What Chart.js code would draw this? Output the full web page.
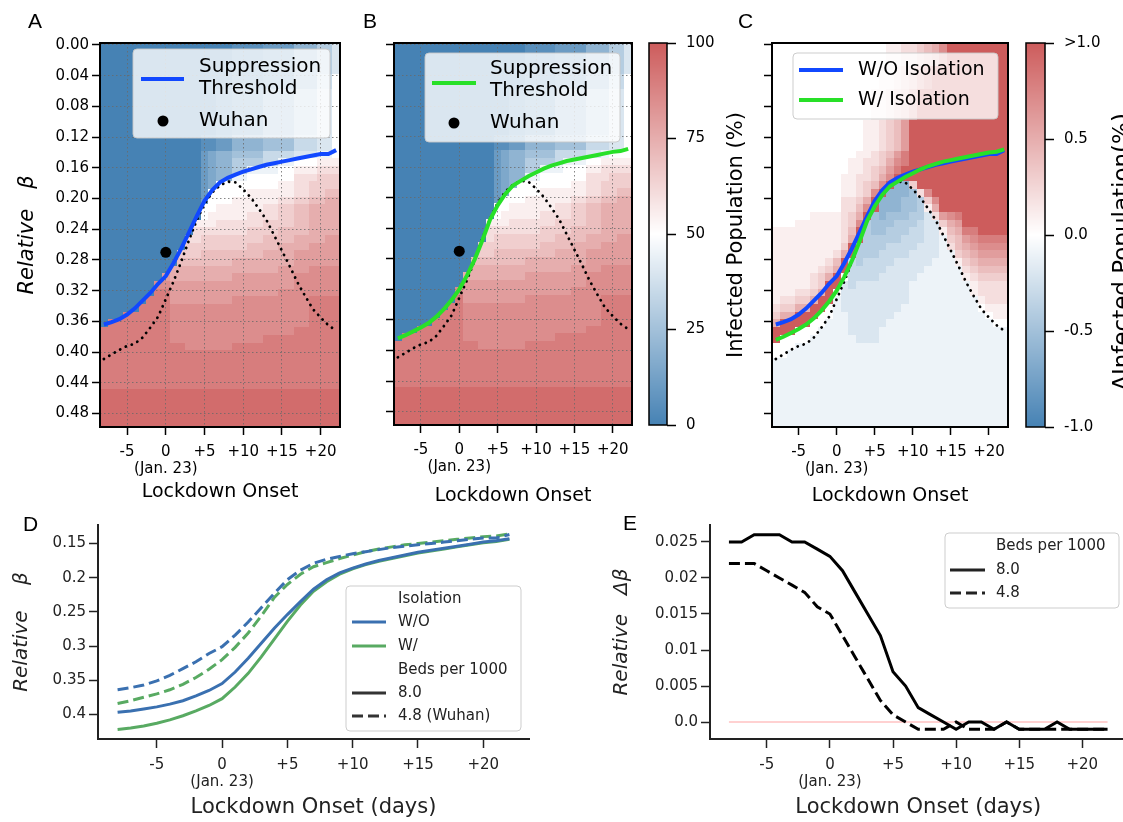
<!DOCTYPE html>
<html>
<head>
<meta charset="utf-8">
<title>Lockdown onset and suppression threshold</title>
<script src="https://cdn.jsdelivr.net/npm/chart.js@4.4.1/dist/chart.umd.min.js"></script>
<style>
  html, body { margin: 0; padding: 0; background: #fff; }
  body { width: 1123px; height: 822px; position: relative; overflow: hidden; }
  canvas { position: absolute; }
  .panel { position: absolute; font-family: 'Liberation Sans', Arial, sans-serif; font-size: 21px; color: #000; line-height: 1; }
</style>
</head>
<body>
<canvas id="heatA" width="350" height="512" style="left:0px;top:0px"></canvas>
<canvas id="heatB" width="280" height="512" style="left:360px;top:0px"></canvas>
<canvas id="barB" width="80" height="470" style="left:640px;top:0px"></canvas>
<canvas id="heatC" width="296" height="512" style="left:720px;top:0px"></canvas>
<canvas id="barC" width="107" height="470" style="left:1016px;top:0px"></canvas>
<canvas id="panelD" width="560" height="317" style="left:0px;top:505px"></canvas>
<canvas id="panelE" width="570" height="317" style="left:560px;top:505px"></canvas>

<div class="panel" style="left:28px;top:10px">A</div>
<div class="panel" style="left:363px;top:10px">B</div>
<div class="panel" style="left:738px;top:10px">C</div>
<div class="panel" style="left:23px;top:513px">D</div>
<div class="panel" style="left:623px;top:512px">E</div>

<script>
// ---- data ----
const days = [-8, -7, -6, -5, -4, -3, -2, -1, 0, 1, 2, 3, 4, 5, 6, 7, 8, 9, 10, 11, 12, 13, 14, 15, 16, 17, 18, 19, 20, 21, 22];
const dayTicks = [-5, 0, 5, 10, 15, 20];
const betaTicks = [0, 0.04, 0.08, 0.12, 0.16, 0.2, 0.24, 0.28, 0.32, 0.36, 0.4, 0.44, 0.48];

// suppression threshold, 4.8 beds per 1000 (Wuhan)
const thresholdWO = [0.364, 0.361, 0.357, 0.351, 0.343, 0.333, 0.323, 0.311, 0.301, 0.284, 0.265, 0.244, 0.223, 0.203, 0.189, 0.179, 0.173, 0.169, 0.165, 0.162, 0.159, 0.156, 0.154, 0.152, 0.150, 0.148, 0.146, 0.144, 0.142, 0.142, 0.137];
const thresholdW = [0.384, 0.380, 0.375, 0.370, 0.364, 0.356, 0.346, 0.334, 0.320, 0.302, 0.281, 0.256, 0.229, 0.210, 0.195, 0.184, 0.178, 0.172, 0.167, 0.162, 0.158, 0.155, 0.152, 0.150, 0.148, 0.146, 0.144, 0.142, 0.140, 0.139, 0.136];
// suppression threshold, 8.0 beds per 1000
const betaWO8 = [0.397, 0.395, 0.392, 0.389, 0.385, 0.380, 0.373, 0.365, 0.355, 0.338, 0.318, 0.296, 0.274, 0.254, 0.235, 0.217, 0.203, 0.193, 0.186, 0.180, 0.175, 0.171, 0.167, 0.163, 0.160, 0.157, 0.154, 0.151, 0.148, 0.146, 0.143];
const betaW8 = [0.422, 0.420, 0.417, 0.413, 0.408, 0.402, 0.395, 0.387, 0.377, 0.360, 0.340, 0.316, 0.290, 0.264, 0.240, 0.220, 0.206, 0.195, 0.187, 0.181, 0.176, 0.172, 0.168, 0.164, 0.161, 0.158, 0.155, 0.152, 0.149, 0.147, 0.144];
// dotted reference curve
const peakCurve = [0.409, 0.403, 0.397, 0.392, 0.389, 0.381, 0.368, 0.354, 0.331, 0.308, 0.282, 0.254, 0.228, 0.207, 0.192, 0.183, 0.178, 0.179, 0.188, 0.199, 0.213, 0.228, 0.248, 0.268, 0.288, 0.309, 0.327, 0.344, 0.355, 0.365, 0.372];
const wuhanDay = [0];
const wuhanBeta = [0.27];

// relative delta beta (with minus without isolation)
const deltaBeds8 = [0.025, 0.025, 0.026, 0.026, 0.026, 0.025, 0.025, 0.024, 0.023, 0.021, 0.018, 0.015, 0.012, 0.007, 0.005, 0.002, 0.001, 0.000, -0.001, 0.000, 0.000, -0.001, 0.000, -0.001, -0.001, -0.001, 0.000, -0.001, -0.001, -0.001, -0.001];
const deltaBeds48 = [0.022, 0.022, 0.022, 0.021, 0.020, 0.019, 0.018, 0.016, 0.015, 0.012, 0.009, 0.006, 0.003, 0.001, 0.000, -0.001, -0.001, -0.001, 0.000, -0.001, -0.001, -0.001, 0.000, -0.001, -0.001, -0.001, -0.001, -0.001, -0.001, -0.001, -0.001];
const zeroRef = [0, 0];

const dTicks = [0.15, 0.2, 0.25, 0.3, 0.35, 0.4];
const eTicks = [0, 0.005, 0.01, 0.015, 0.02, 0.025];
const barTicksB = [0, 25, 50, 75, 100];
const barTicksC = [-1, -0.5, 0, 0.5, 1];

// heat grids: one string per beta row (0.00, 0.01, ...), run-length coded "level*count"
// level chars 0..k = 21 steps from the low end to the high end of the colour bar
const heatLevels = '0123456789abcdefghijk';
const heatRowStart = -0.0025;
const heatRowStep = 0.01;

const heatA = [
  "0*17 1*4 2*4 4*3 6*2 8*1",
  "0*17 1*4 2*4 4*3 6*2 8*1",
  "0*17 1*4 2*4 4*3 6*2 8*1",
  "0*17 1*4 2*4 4*3 6*2 8*1",
  "0*17 1*4 2*4 4*3 7*2 a*1",
  "0*17 1*4 2*4 4*3 7*2 a*1",
  "0*15 1*2 2*4 4*4 6*3 8*2 a*1",
  "0*15 1*2 2*4 4*4 6*3 8*2 a*1",
  "0*15 1*2 2*4 4*4 6*3 8*2 a*1",
  "0*15 1*2 2*4 4*4 6*3 8*2 a*1",
  "0*15 1*2 2*4 4*4 6*3 8*2 a*1",
  "0*15 1*2 2*4 4*4 6*3 8*2 a*1",
  "0*13 1*2 2*2 4*4 5*4 7*3 8*2 a*1",
  "0*13 1*2 2*2 4*4 5*4 7*3 8*2 a*1",
  "0*13 2*1 3*1 4*2 5*4 7*4 8*3 9*2 a*1",
  "0*13 2*1 3*1 4*2 6*4 7*2 9*2 a*3 b*3",
  "0*13 2*1 3*1 4*2 6*2 9*4 a*2 b*3 c*3",
  "0*13 2*1 3*1 4*2 9*2 a*6 c*3 d*3",
  "0*13 2*1 3*1 a*8 b*2 c*2 d*4",
  "0*13 2*1 a*5 b*6 c*2 d*2 e*2",
  "0*13 2*1 a*3 b*6 c*2 d*2 e*2 f*2",
  "0*13 a*2 b*6 c*2 d*2 e*2 f*4",
  "0*13 a*1 b*5 c*4 d*2 e*2 f*4",
  "0*12 b*3 c*6 d*4 e*2 f*4",
  "0*12 c*7 d*4 e*4 f*4",
  "0*11 c*2 d*8 e*4 f*4 g*2",
  "0*11 d*8 e*4 f*4 g*4",
  "0*10 d*3 e*8 f*4 g*6",
  "0*10 e*7 f*8 g*6",
  "0*9 f*14 g*4 h*4",
  "0*8 g*1 f*8 g*8 h*6",
  "0*7 h*2 g*16 h*6",
  "0*7 i*2 g*14 h*8",
  "0*6 i*3 g*8 h*10 i*4",
  "0*5 i*4 h*18 i*4",
  "0*3 i*6 h*18 i*4",
  "0*1 i*8 h*18 i*4",
  "i*9 h*16 i*6",
  "i*9 h*12 i*10",
  "i*11 h*6 i*14",
  "i*31",
  "i*31",
  "i*31",
  "i*31",
  "i*31",
  "j*31",
  "j*31",
  "j*31",
  "j*31",
  "j*31"
];

const heatB = [
  "0*17 1*4 2*4 4*3 6*2 8*1",
  "0*17 1*4 2*4 4*3 6*2 8*1",
  "0*17 1*4 2*4 4*3 6*2 8*1",
  "0*17 1*4 2*4 4*3 6*2 8*1",
  "0*17 1*4 2*4 4*3 7*2 a*1",
  "0*17 1*4 2*4 4*3 7*2 a*1",
  "0*15 1*2 2*4 4*4 6*3 8*2 a*1",
  "0*15 1*2 2*4 4*4 6*3 8*2 a*1",
  "0*15 1*2 2*4 4*4 6*3 8*2 a*1",
  "0*15 1*2 2*4 4*4 6*3 8*2 a*1",
  "0*15 1*2 2*4 4*4 6*3 8*2 a*1",
  "0*15 1*2 2*4 4*4 6*3 8*2 a*1",
  "0*13 1*2 2*2 4*4 5*4 7*3 8*2 a*1",
  "0*13 1*2 2*2 4*4 5*4 7*3 8*2 a*1",
  "0*13 2*1 3*1 4*2 5*4 7*4 8*2 9*1 a*3",
  "0*13 2*1 3*1 4*2 6*4 7*1 9*3 a*2 b*4",
  "0*13 2*1 3*1 4*2 6*2 9*3 a*3 b*2 c*4",
  "0*13 2*1 3*1 4*2 9*2 a*6 c*3 d*3",
  "0*13 2*1 3*1 4*1 a*7 b*2 c*2 d*4",
  "0*13 2*1 3*1 a*4 b*6 c*2 d*2 e*2",
  "0*13 2*1 a*3 b*6 c*2 d*2 e*2 f*2",
  "0*13 a*2 b*6 c*2 d*2 e*2 f*4",
  "0*13 a*1 b*5 c*4 d*2 e*2 f*4",
  "0*12 b*3 c*6 d*4 e*2 f*4",
  "0*12 c*7 d*4 e*4 f*4",
  "0*12 c*1 d*8 e*4 f*4 g*2",
  "0*11 d*8 e*4 f*4 g*4",
  "0*11 d*2 e*8 f*4 g*6",
  "0*10 e*7 f*8 g*6",
  "0*10 f*13 g*4 h*4",
  "0*9 f*8 g*8 h*6",
  "0*9 g*16 h*6",
  "0*8 h*1 g*14 h*8",
  "0*8 i*1 g*8 h*10 i*4",
  "0*7 i*2 h*18 i*4",
  "0*6 i*3 h*18 i*4",
  "0*5 i*4 h*18 i*4",
  "0*3 i*6 h*16 i*6",
  "0*1 i*8 h*12 i*10",
  "i*11 h*6 i*14",
  "i*31",
  "i*31",
  "i*31",
  "i*31",
  "i*31",
  "j*31",
  "j*31",
  "j*31",
  "j*31",
  "j*31"
];

const heatC = [
  "a*15 b*2 c*2 d*1 e*1 f*1 h*1 k*8",
  "a*15 b*2 c*2 d*1 e*1 f*1 h*1 k*8",
  "a*15 b*2 c*2 d*1 e*1 f*1 h*1 k*8",
  "a*14 b*2 c*1 d*1 e*1 g*1 i*1 k*10",
  "a*14 b*2 c*1 d*1 e*1 g*1 i*1 k*10",
  "a*14 b*2 c*1 d*1 e*1 g*1 i*1 k*10",
  "a*13 b*2 c*1 d*1 e*1 g*1 k*12",
  "a*13 b*2 c*1 d*1 e*1 g*1 k*12",
  "a*13 b*2 c*1 d*1 e*1 g*1 k*12",
  "a*13 b*2 c*1 d*1 e*1 g*1 k*12",
  "a*12 b*2 c*1 d*1 e*1 g*1 k*13",
  "a*12 b*2 c*1 d*1 e*1 g*1 k*13",
  "a*12 b*2 c*1 d*1 e*1 g*1 k*13",
  "a*12 b*2 c*1 d*1 e*1 g*1 k*13",
  "a*11 b*2 c*1 d*1 e*1 g*1 i*1 k*13",
  "a*10 b*2 c*2 d*1 f*1 h*1 i*1 k*13",
  "a*10 b*2 c*1 d*1 e*1 g*1 i*1 k*14",
  "a*9 b*2 c*2 d*1 f*1 h*1 k*15",
  "a*9 b*2 c*1 d*1 e*1 h*1 k*1 4*2 d*1 k*12",
  "a*9 b*2 c*1 d*1 h*1 k*1 4*3 5*1 c*1 h*1 k*10",
  "a*9 c*2 d*1 f*1 k*1 4*3 5*2 6*1 d*1 h*1 k*9",
  "a*9 c*2 e*1 h*1 k*1 4*3 5*2 6*1 b*1 f*1 k*9",
  "a*5 b*4 c*1 d*1 f*1 k*1 5*1 4*1 5*3 6*2 8*1 c*1 g*1 h*1 i*1 k*6",
  "a*3 b*6 c*1 d*1 h*1 6*1 5*3 6*3 7*1 8*2 d*1 f*1 g*1 k*6",
  "b*9 c*1 e*1 k*1 6*1 5*2 6*3 7*2 8*2 b*1 e*1 f*1 i*2 k*4",
  "b*9 c*1 f*1 k*1 6*5 7*3 8*2 9*1 d*1 e*1 g*1 h*1 i*4",
  "b*9 d*1 k*1 6*4 7*4 8*3 9*1 c*1 e*1 f*1 g*1 h*4",
  "b*8 c*1 f*1 k*1 6*3 7*4 8*4 9*2 d*1 e*1 f*1 g*4",
  "b*7 c*1 e*1 k*1 7*1 6*1 7*4 8*5 9*3 b*1 d*1 e*1 f*4",
  "b*6 c*1 d*1 f*1 k*1 7*5 8*5 9*5 c*1 d*1 e*4",
  "b*5 c*1 d*1 f*1 k*1 a*1 7*4 8*5 9*6 b*1 c*1 d*4",
  "b*5 c*1 d*1 k*2 8*1 7*1 8*7 9*8 b*1 c*4",
  "b*3 c*2 d*1 f*1 k*1 a*1 8*9 9*8 b*1 c*4",
  "b*1 c*2 d*2 f*1 k*2 9*1 8*9 9*9 b*1 c*3",
  "c*1 d*2 f*2 k*2 a*1 9*1 8*8 9*10 a*1 b*3",
  "d*1 f*2 k*3 a*2 9*2 8*6 9*12 a*1 b*2",
  "f*1 k*4 a*2 9*3 8*5 9*14 a*2",
  "k*3 a*3 9*4 8*4 9*17",
  "k*1 a*4 9*6 8*3 9*17",
  "a*3 9*28",
  "a*2 9*29",
  "9*31",
  "9*31",
  "9*31",
  "9*31",
  "9*31",
  "9*31",
  "9*31",
  "9*31",
  "9*31"
];

// ---- helpers ----
Chart.defaults.font.family = "'DejaVu Sans', sans-serif";
Chart.defaults.color = '#000';

const blueLine = '#1148ff';
const greenLine = '#28e028';
const blueD = '#3a70b0';
const greenD = '#58aa62';

// steelblue -> white -> indianred
const cmapLow = [70, 130, 180], cmapMid = [255, 255, 255], cmapHigh = [205, 92, 92];
function cmap(t) {
  t = Math.max(0, Math.min(1, t));
  const a = t < 0.5 ? cmapLow : cmapMid;
  const b = t < 0.5 ? cmapMid : cmapHigh;
  const f = t < 0.5 ? t / 0.5 : (t - 0.5) / 0.5;
  return 'rgb(' + a.map((c, i) => Math.round(c + (b[i] - c) * f)).join(',') + ')';
}

function decodeRows(rows, vmin, vmax) {
  return rows.map(row => {
    const cells = row.split(' ').flatMap(run => {
      const [ch, n] = run.split('*');
      return Array(+n).fill(ch);
    });
    while (cells.length < days.length) cells.push(cells[cells.length - 1]);
    return cells.slice(0, days.length).map(ch => vmin + (vmax - vmin) * heatLevels.indexOf(ch) / (heatLevels.length - 1));
  });
}

function dayLabel(v) {
  if (v === 0) return ['0', '(Jan. 23)'];
  return v > 0 ? '+' + v : String(v);
}

function series(xs, ys, color, width, dash) {
  return {
    data: xs.map((x, i) => ({ x: x, y: ys[i] })),
    borderColor: color, backgroundColor: color, borderWidth: width,
    borderDash: dash || [], pointRadius: 0, fill: false, tension: 0
  };
}

function roundBox(ctx, x, y, w, h, r) {
  ctx.beginPath();
  if (ctx.roundRect) ctx.roundRect(x, y, w, h, r);
  else ctx.rect(x, y, w, h);
}

// ---- plugins ----
const heatmapPlugin = {
  id: 'heatmap',
  beforeDraw(chart, args, o) {
    if (!o.rows) return;
    const { ctx, chartArea: a, scales: { x, y } } = chart;
    ctx.save();
    ctx.beginPath();
    ctx.rect(a.left, a.top, a.width, a.height);
    ctx.clip();
    o.rows.forEach((row, r) => {
      const b0 = heatRowStart + r * heatRowStep;
      const y0 = Math.round(y.getPixelForValue(b0));
      const y1 = Math.round(y.getPixelForValue(b0 + heatRowStep));
      row.forEach((v, c) => {
        const x0 = Math.round(x.getPixelForValue(days[c] - 0.5));
        const x1 = Math.round(x.getPixelForValue(days[c] + 0.5));
        ctx.fillStyle = cmap((v - o.vmin) / (o.vmax - o.vmin));
        ctx.fillRect(x0, y0, x1 - x0, y1 - y0);
      });
    });
    ctx.restore();
  }
};

const colorbarPlugin = {
  id: 'colorbar',
  beforeDraw(chart) {
    const { ctx, chartArea: a, scales: { y } } = chart;
    for (let py = Math.floor(a.top); py < a.bottom; py++) {
      const v = y.getValueForPixel(py + 0.5);
      ctx.fillStyle = cmap((v - y.min) / (y.max - y.min));
      ctx.fillRect(a.left, py, a.width, 1);
    }
  }
};

const framePlugin = {
  id: 'frame',
  afterDraw(chart, args, o) {
    const { ctx, chartArea: a } = chart;
    ctx.save();
    ctx.strokeStyle = '#000';
    ctx.lineWidth = o.width || 2;
    ctx.strokeRect(a.left, a.top, a.width, a.height);
    ctx.restore();
  }
};

const boxLegend = {
  id: 'boxLegend',
  afterDraw(chart, args, o) {
    if (!o || !o.box) return;
    const { ctx, chartArea: a } = chart;
    const [bx, by, bw, bh] = o.box;
    ctx.save();
    roundBox(ctx, a.left + bx, a.top + by, bw, bh, 4);
    ctx.fillStyle = 'rgba(255,255,255,0.8)';
    ctx.fill();
    ctx.strokeStyle = 'rgba(200,200,200,0.9)';
    ctx.lineWidth = 1;
    ctx.stroke();
    ctx.font = o.font;
    ctx.textBaseline = 'middle';
    ctx.textAlign = 'left';
    o.items.forEach(it => {
      const yy = a.top + it.y;
      if (it.line) {
        ctx.setLineDash(it.dash || []);
        ctx.strokeStyle = it.line;
        ctx.lineWidth = it.width;
        ctx.beginPath();
        ctx.moveTo(a.left + o.handle[0], yy);
        ctx.lineTo(a.left + o.handle[1], yy);
        ctx.stroke();
        ctx.setLineDash([]);
      }
      if (it.dot) {
        ctx.fillStyle = it.dot;
        ctx.beginPath();
        ctx.arc(a.left + o.dotX, yy, it.r, 0, Math.PI * 2);
        ctx.fill();
      }
      if (it.text) {
        ctx.fillStyle = o.color;
        ctx.fillText(it.text, a.left + o.textX, yy);
      }
    });
    ctx.restore();
  }
};

const sideLabel = {
  id: 'sideLabel',
  afterDraw(chart, args, o) {
    if (!o.text) return;
    const { ctx, chartArea: a } = chart;
    ctx.save();
    ctx.translate(a.right + o.dx, (a.top + a.bottom) / 2 + o.dy);
    ctx.rotate(-Math.PI / 2);
    ctx.font = o.font;
    ctx.fillStyle = '#000';
    ctx.textAlign = 'center';
    ctx.textBaseline = 'alphabetic';
    ctx.fillText(o.text, 0, 0);
    ctx.restore();
  }
};

// ---- heat map panels (A, B, C) ----
function heatChart(id, o) {
  const tickFont = { size: 15, lineHeight: 1.15 };
  const grid = () => ({
    color: 'rgba(105,105,105,0.8)', lineWidth: 1, drawOnChartArea: o.grid,
    tickLength: 8, tickColor: '#000', tickWidth: 1.5
  });
  return new Chart(document.getElementById(id), {
    type: 'line',
    data: { datasets: o.datasets },
    options: {
      responsive: false, animation: false, events: [],
      layout: { padding: o.padding },
      scales: {
        x: {
          type: 'linear', min: days[0] - 0.5, max: days[days.length - 1] + 0.5,
          afterBuildTicks: s => { s.ticks = dayTicks.map(v => ({ value: v })); },
          afterFit: s => { s.height = o.xh; },
          ticks: { callback: dayLabel, autoSkip: false, maxRotation: 0, color: '#000', padding: 8, font: tickFont },
          grid: grid(),
          border: { display: false, dash: [1.5, 2.5] },
          title: { display: true, text: 'Lockdown Onset', color: '#000', font: { size: 19 }, padding: { top: 0, bottom: o.xTitlePad } }
        },
        y: {
          type: 'linear', reverse: true,
          min: heatRowStart, max: heatRowStart + heatRowStep * o.rows.length,
          afterBuildTicks: s => { s.ticks = betaTicks.map(v => ({ value: v })); },
          afterFit: s => { s.width = o.yw; },
          ticks: { display: o.yLabels, callback: v => v.toFixed(2), color: '#000', padding: 3, font: tickFont },
          grid: grid(),
          border: { display: false, dash: [1.5, 2.5] },
          title: o.yTitle || { display: false }
        }
      },
      plugins: {
        legend: { display: false }, tooltip: { enabled: false },
        heatmap: { rows: o.rows, vmin: o.vmin, vmax: o.vmax },
        frame: { width: 2 },
        boxLegend: o.legend
      }
    },
    plugins: [heatmapPlugin, framePlugin, boxLegend]
  });
}

function wuhanPoint() {
  return {
    data: wuhanDay.map((d, i) => ({ x: d, y: wuhanBeta[i] })),
    showLine: false, pointRadius: 5.5, pointBackgroundColor: '#000', pointBorderColor: '#000', borderWidth: 0
  };
}

function dotted() {
  const s = series(days, peakCurve, '#000', 2.8, [0.1, 6.2]);
  s.borderCapStyle = 'round';
  return s;
}

heatChart('heatA', {
  rows: decodeRows(heatA, 0, 100), vmin: 0, vmax: 100, grid: true, yLabels: true,
  padding: { top: 43, right: 10, bottom: 0, left: 0 }, yw: 100, xh: 85, xTitlePad: 9,
  yTitle: { display: true, text: 'Relative   β', color: '#000', font: { size: 21, style: 'italic' }, padding: { top: 15 } },
  datasets: [wuhanPoint(), series(days, thresholdWO, blueLine, 4), dotted()],
  legend: {
    box: [33, 6, 197, 89], handle: [41, 84], dotX: 63, textX: 99, font: "20px 'DejaVu Sans'", color: '#000',
    items: [
      { line: blueLine, width: 4, y: 36 },
      { text: 'Suppression', y: 24 },
      { text: 'Threshold', y: 46 },
      { dot: '#000', r: 5.5, y: 78, text: 'Wuhan' }
    ]
  }
});

heatChart('heatB', {
  rows: decodeRows(heatB, 0, 100), vmin: 0, vmax: 100, grid: true, yLabels: false,
  padding: { top: 43, right: 8, bottom: 2, left: 0 }, yw: 34, xh: 85, xTitlePad: 3,
  datasets: [wuhanPoint(), series(days, thresholdW, greenLine, 4), dotted()],
  legend: {
    box: [31, 10, 195, 89], handle: [38, 82], dotX: 60, textX: 96, font: "20px 'DejaVu Sans'", color: '#000',
    items: [
      { line: greenLine, width: 4, y: 40 },
      { text: 'Suppression', y: 26 },
      { text: 'Threshold', y: 48 },
      { dot: '#000', r: 5.5, y: 80, text: 'Wuhan' }
    ]
  }
});

heatChart('heatC', {
  rows: decodeRows(heatC, -1, 1), vmin: -1, vmax: 1, grid: false, yLabels: false,
  padding: { top: 43, right: 8, bottom: 0, left: 0 }, yw: 52, xh: 85, xTitlePad: 5,
  yTitle: { display: true, text: 'Infected Population (%)', color: '#000', font: { size: 21 }, padding: { top: 4 } },
  datasets: [series(days, thresholdW, greenLine, 4), series(days, thresholdWO, blueLine, 4), dotted()],
  legend: {
    box: [21, 10, 205, 66], handle: [27, 71], dotX: 0, textX: 86, font: "19px 'DejaVu Sans'", color: '#000',
    items: [
      { line: blueLine, width: 4, y: 27, text: 'W/O Isolation' },
      { line: greenLine, width: 4, y: 57, text: 'W/ Isolation' }
    ]
  }
});

// ---- colour bars ----
function colorBar(id, o) {
  return new Chart(document.getElementById(id), {
    type: 'line',
    data: { datasets: [] },
    options: {
      responsive: false, animation: false, events: [],
      layout: { padding: o.padding },
      scales: {
        x: { type: 'linear', display: false, min: 0, max: 1 },
        y: {
          type: 'linear', position: 'right', min: o.ticks[0], max: o.ticks[o.ticks.length - 1],
          afterBuildTicks: s => { s.ticks = o.ticks.map(v => ({ value: v })); },
          afterFit: s => { s.width = o.yw; },
          ticks: { callback: o.label, color: '#000', padding: 10, font: { size: 15 } },
          grid: { drawOnChartArea: false, tickLength: 9, tickColor: '#000', tickWidth: 1.5 },
          border: { display: false }
        }
      },
      plugins: {
        legend: { display: false }, tooltip: { enabled: false },
        frame: { width: 1.5 },
        sideLabel: o.side || {}
      }
    },
    plugins: [colorbarPlugin, framePlugin, sideLabel]
  });
}

colorBar('barB', {
  ticks: barTicksB, padding: { left: 9, top: 43, bottom: 45, right: 0 }, yw: 53,
  label: v => String(v)
});

colorBar('barC', {
  ticks: barTicksC, padding: { left: 10, top: 43, bottom: 43, right: 0 }, yw: 78,
  label: v => (v === 1 ? '>1.0' : v.toFixed(1)),
  side: { text: 'ΔInfected Population(%)', font: "23px 'DejaVu Sans'", dx: 84, dy: 17 }
});

// ---- line panels (D, E) ----
function lineScales(o) {
  return {
    x: {
      type: 'linear', min: -9.5, max: 23.5,
      afterBuildTicks: s => { s.ticks = dayTicks.map(v => ({ value: v })); },
      afterFit: s => { s.height = 83; },
      ticks: { callback: dayLabel, autoSkip: false, maxRotation: 0, color: '#222', padding: 8, font: { size: 15, lineHeight: 1.15 } },
      grid: { drawOnChartArea: false, tickLength: 9, tickColor: '#222', tickWidth: 1.5 },
      border: { color: '#222', width: 2 },
      title: { display: true, text: 'Lockdown Onset (days)', color: '#222', font: { size: 21 }, padding: { top: 0, bottom: 1.5 } }
    },
    y: {
      type: 'linear', reverse: o.reverse, min: o.min, max: o.max,
      afterBuildTicks: s => { s.ticks = o.ticks.map(v => ({ value: v })); },
      afterFit: s => { s.width = o.yw; },
      ticks: { callback: o.label, color: '#222', padding: 3, font: { size: 15 } },
      grid: { drawOnChartArea: false, tickLength: 9, tickColor: '#222', tickWidth: 1.5 },
      border: { color: '#222', width: 2 },
      title: { display: true, text: o.title, color: '#222', font: { size: 20, style: 'italic' }, padding: { top: o.titlePad } }
    }
  };
}

new Chart(document.getElementById('panelD'), {
  type: 'line',
  data: {
    datasets: [
      series(days, thresholdWO, blueD, 3, [11, 5]),
      series(days, thresholdW, greenD, 3, [11, 5]),
      series(days, betaWO8, blueD, 3),
      series(days, betaW8, greenD, 3)
    ]
  },
  options: {
    responsive: false, animation: false, events: [],
    layout: { padding: { top: 20, right: 31, bottom: 0, left: 0 } },
    scales: lineScales({
      reverse: true, min: 0.123, max: 0.436, ticks: dTicks, yw: 98, titlePad: 10,
      label: v => String(+v.toFixed(2)), title: 'Relative    β'
    }),
    plugins: {
      legend: { display: false }, tooltip: { enabled: false },
      boxLegend: {
        box: [248, 61, 175, 145], handle: [254, 288], dotX: 0, textX: 300, font: "15px 'DejaVu Sans'", color: '#222',
        items: [
          { text: 'Isolation', y: 74 },
          { line: blueD, width: 3, y: 97, text: 'W/O' },
          { line: greenD, width: 3, y: 121, text: 'W/' },
          { text: 'Beds per 1000', y: 145 },
          { line: '#333', width: 3, y: 168, text: '8.0' },
          { line: '#333', width: 3, dash: [11, 5], y: 191, text: '4.8 (Wuhan)' }
        ]
      }
    }
  },
  plugins: [boxLegend]
});

new Chart(document.getElementById('panelE'), {
  type: 'line',
  data: {
    datasets: [
      series(days, deltaBeds8, '#000', 3),
      series(days, deltaBeds48, '#000', 3, [11, 5]),
      series([days[0], days[days.length - 1]], zeroRef, '#ffc2c2', 1.6)
    ]
  },
  options: {
    responsive: false, animation: false, events: [],
    layout: { padding: { top: 20, right: 3.5, bottom: 0, left: 0 } },
    scales: lineScales({
      reverse: false, min: -0.00235, max: 0.02735, ticks: eTicks, yw: 150, titlePad: 50,
      label: v => (v === 0 ? '0.0' : String(+v.toFixed(3))), title: 'Relative   Δβ'
    }),
    plugins: {
      legend: { display: false }, tooltip: { enabled: false },
      boxLegend: {
        box: [235, 8, 174, 75], handle: [240, 275], dotX: 0, textX: 286, font: "15px 'DejaVu Sans'", color: '#222',
        items: [
          { text: 'Beds per 1000', y: 21 },
          { line: '#222', width: 3, y: 45, text: '8.0' },
          { line: '#222', width: 3, dash: [11, 5], y: 68, text: '4.8' }
        ]
      }
    }
  },
  plugins: [boxLegend]
});
</script>
</body>
</html>
